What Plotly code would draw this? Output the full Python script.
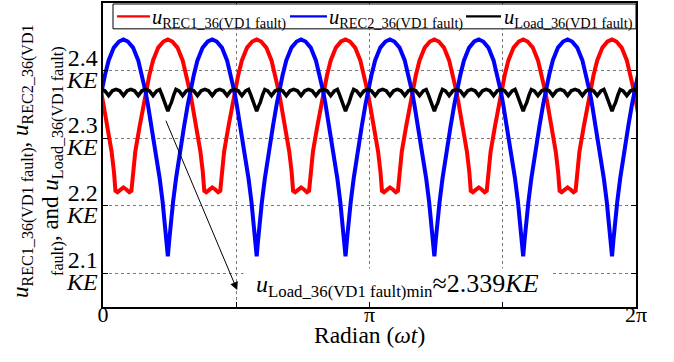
import math
import plotly.graph_objects as go

# ---------------- data ----------------
# one 60-degree period of each waveform, offsets in degrees of wt
BLUE_OFFSET = [0, 1, 2, 3.5, 5.5, 7, 8, 11, 13.5, 15, 17.5, 20, 23.5, 27, 30,
               33, 36.5, 40, 42.5, 45, 46.5, 49, 52, 53, 54.5, 56.5, 58, 59]
BLUE_VALUE = [2.125, 2.150, 2.175, 2.205, 2.240, 2.262, 2.280, 2.318, 2.350, 2.368,
              2.393, 2.415, 2.434, 2.443, 2.446, 2.443, 2.434, 2.415, 2.393, 2.368,
              2.350, 2.318, 2.280, 2.262, 2.240, 2.205, 2.175, 2.150]

RED_OFFSET = [0, 2, 4, 5.4, 6.4, 8, 11, 13.5, 15, 17.5, 20, 23.5, 27, 30,
              33, 36.5, 40, 42.5, 45, 46.5, 49, 52, 53.6, 54.6, 56, 58]
RED_VALUE = [2.227, 2.224, 2.220, 2.222, 2.250, 2.280, 2.318, 2.350, 2.368, 2.393,
             2.415, 2.434, 2.443, 2.446, 2.443, 2.434, 2.415, 2.393, 2.368, 2.350,
             2.318, 2.280, 2.250, 2.222, 2.220, 2.224]

LOAD_OFFSET = [0, 1.2, 2.3, 4, 5.5, 7.5, 10, 12.5, 15, 17.5, 20, 22.5, 25, 27.5, 30,
               32.5, 35, 37.5, 40, 42.5, 45, 47.5, 50, 52.5, 54.5, 56, 57.7, 58.8]
LOAD_VALUE = [2.340, 2.347, 2.352, 2.364, 2.372, 2.370, 2.363, 2.370, 2.372, 2.370,
              2.363, 2.370, 2.372, 2.370, 2.363, 2.370, 2.372, 2.370, 2.363, 2.370,
              2.372, 2.370, 2.363, 2.370, 2.372, 2.364, 2.352, 2.347]

PERIOD_DEG = 60
BLUE_START_DEG = 43.8   # position of a blue cusp
RED_START_DEG = 13.8    # centre of a red flat bottom
LOAD_START_DEG = 43.8   # position of a load-voltage dip
PERIODS = range(-1, 7)

X_TICKS = [0, math.pi / 2, math.pi, 3 * math.pi / 2, 2 * math.pi]
X_TICK_TEXT = ["0", "", "π", "", "2π"]
Y_TICKS = [2.1, 2.2, 2.3, 2.4]
Y_TICK_TEXT = ["2.1", "2.2", "2.3", "2.4"]
Y_RANGE = [2.05, 2.5]

NAMES = ["<i>u</i><sub>REC1_36(VD1 fault)</sub>",
         "<i>u</i><sub>REC2_36(VD1 fault)</sub>",
         "<i>u</i><sub>Load_36(VD1 fault)</sub>"]
COLORS = ["#ff0000", "#0000ff", "#000000"]


def build(start, offsets, values):
    xs, ys = [], []
    for k in PERIODS:
        for o, v in zip(offsets, values):
            xs.append(math.radians(start + PERIOD_DEG * k + o))
            ys.append(v)
    return xs, ys


red_x, red_y = build(RED_START_DEG, RED_OFFSET, RED_VALUE)
blue_x, blue_y = build(BLUE_START_DEG, BLUE_OFFSET, BLUE_VALUE)
load_x, load_y = build(LOAD_START_DEG, LOAD_OFFSET, LOAD_VALUE)

FONT = "Liberation Serif"
W, H = 674, 362
ML, MR, MT, MB = 103, 38, 1, 55
PW, PH = W - ML - MR, H - MT - MB


def px(xp):   # page pixel -> paper x
    return (xp - ML) / PW


def py(yp):   # page pixel -> paper y
    return (MT + PH - yp) / PH


fig = go.Figure()
for (xs, ys), name, col, w in zip([(red_x, red_y), (blue_x, blue_y), (load_x, load_y)],
                                  NAMES, COLORS, [4, 4, 3.5]):
    fig.add_trace(go.Scatter(x=xs, y=ys, mode="lines", name=name,
                             line=dict(color=col, width=w), showlegend=False))

axis_common = dict(showline=True, linecolor="black", linewidth=2, mirror="ticks",
                   ticks="inside", ticklen=5, tickcolor="black", tickwidth=1,
                   showgrid=True, gridcolor="#7a7a7a", griddash="dot", gridwidth=1,
                   zeroline=False)

fig.update_layout(
    width=W, height=H,
    margin=dict(l=ML, r=MR, t=MT, b=MB),
    paper_bgcolor="white", plot_bgcolor="white",
    font=dict(family=FONT, color="black"),
    showlegend=False,
    xaxis=dict(range=[0, 2 * math.pi], tickvals=X_TICKS, ticktext=X_TICK_TEXT,
               tickfont=dict(family=FONT, size=22, color="black"),
               ticklabelstandoff=-13, **axis_common),
    yaxis=dict(range=Y_RANGE, tickvals=Y_TICKS, showticklabels=False, **axis_common),
)

# ---- legend box drawn on top of the curves ----
fig.add_shape(type="rect", xref="paper", yref="paper",
              x0=px(113), x1=px(636), y0=py(27), y1=py(2),
              line=dict(color="black", width=1), fillcolor="white", layer="above")
for x0, x1, tx, name, col in zip([117, 290, 466], [150, 327, 501], [151, 327.5, 502.5],
                                 NAMES, COLORS):
    fig.add_shape(type="line", xref="paper", yref="paper",
                  x0=px(x0), x1=px(x1), y0=py(14.5), y1=py(14.5),
                  line=dict(color=col, width=2.2), layer="above")
    fig.add_annotation(x=px(tx), y=py(17), xref="paper", yref="paper",
                       text=name, showarrow=False, xanchor="left", yanchor="middle",
                       borderpad=0, font=dict(family=FONT, size=20.5, color="black"))

# ---- y tick labels: "2.4" over "KE" with tight line spacing ----
for val, txt in zip(Y_TICKS, Y_TICK_TEXT):
    fig.add_annotation(
        x=0, xref="paper", y=val, yref="y",
        text=(f"<span style='font-size:24px'>{txt}</span><br>"
              "<span style='font-size:24px'><i>KE</i></span>"),
        showarrow=False, xanchor="right", yanchor="middle", align="right",
        xshift=-3, yshift=2, font=dict(family=FONT, size=17, color="black"))

# ---- x axis title ----
fig.add_annotation(x=0.5, y=0, xref="paper", yref="paper", yshift=-28,
                   text="Radian (<i>ωt</i>)", showarrow=False,
                   xanchor="center", yanchor="middle",
                   font=dict(family=FONT, size=23.5, color="black"))

# ---- y axis title (two rotated lines) ----
fig.add_annotation(
    x=0, xref="paper", y=0.5, yref="paper", xshift=-66, yshift=-6,
    text=("<i>u</i><sub>REC1_36(VD1 fault)</sub>, <i>u</i><sub>REC2_36(VD1</sub><br>"
          "<sub>fault)</sub>, and <i>u</i><sub>Load_36(VD1 fault)</sub>"),
    textangle=-90, showarrow=False, xanchor="center", yanchor="middle",
    font=dict(family=FONT, size=23, color="black"))

# ---- arrow from the load-voltage dip to the note ----
fig.add_annotation(x=1.582, y=2.075, xref="x", yref="y", ax=0.734, ay=2.328,
                   axref="x", ayref="y", text="", showarrow=True, arrowhead=2,
                   arrowsize=1.6, arrowwidth=1, arrowcolor="black", standoff=0)

fig.add_annotation(
    x=1.653, y=2.083, xref="x", yref="y", xanchor="left", yanchor="middle",
    text=("&nbsp;&nbsp;<i>u</i><sub>Load_36(VD1 fault)min</sub>"
          "<span style='font-size:26px'>≈2.339<i>KE</i></span>&nbsp;&nbsp;"),
    showarrow=False, bgcolor="white", borderpad=0,
    font=dict(family=FONT, size=24, color="black"))

fig.write_html("out.html", config={"displayModeBar": False})
